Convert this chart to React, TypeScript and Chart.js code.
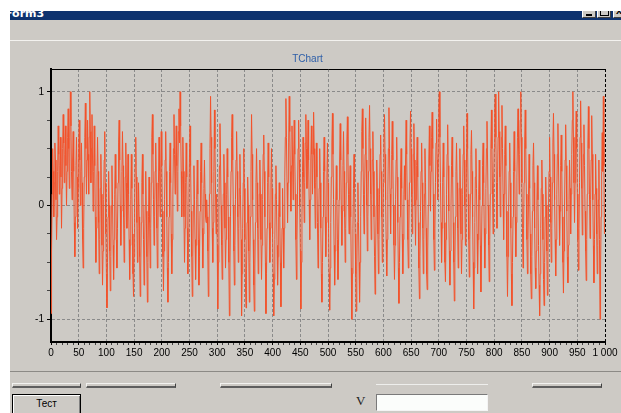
import React, { useEffect, useRef } from "react";
import { Chart, registerables } from "chart.js";

Chart.register(...registerables);

const TITLE = "TChart";
const X_MIN = 0;
const X_MAX = 1000;
const Y_MIN = -1.2;
const Y_MAX = 1.2;
const X_MAJOR = 50;
const X_STEP = 10;
const Y_STEP = 0.25;

const SIGNAL: number[] = [
  -0.95, -0.4, 0.1, 0.5, 0.3, -0.1, 0.2, 0.55, 0.4, 0.05, -0.3, -0.1, 0.3, 0.7, 0.45, 0.1, 0.35, 0.6, 0.25, -0.2,
  0.15, 0.5, 0.8, 0.55, 0.2, 0.45, 0.7, 0.35, 0.0, 0.3, 0.6, 0.85, 0.5, 0.15, 0.6, 1.0, 0.7, 0.3, 0.05, 0.4,
  0.65, 0.3, -0.15, -0.45, -0.1, 0.35, 0.6, 0.25, -0.2, 0.15, 0.5, 0.75, 0.4, 0.0, 0.3, 0.55, 0.2, -0.3, -0.55, -0.2,
  0.25, 0.6, 0.9, 0.5, 0.1, 0.4, 0.75, 0.45, 0.1, 0.6, 1.0, 0.65, 0.2, 0.5, 0.8, 0.4, -0.05, 0.3, 0.7, 0.35,
  -0.1, -0.5, -0.2, 0.25, 0.6, 0.3, -0.15, -0.6, -0.3, 0.15, 0.45, 0.1, -0.35, -0.7, -0.4, 0.05, 0.4, 0.65, 0.2, -0.25,
  -0.6, -0.9, -0.5, -0.1, 0.3, 0.0, -0.4, -0.75, -0.45, 0.0, 0.35, 0.05, -0.35, -0.65, -0.3, 0.1, 0.45, 0.15, -0.3, -0.55,
  -0.2, 0.2, 0.55, 0.75, 0.4, 0.0, -0.35, -0.05, 0.3, 0.65, 0.35, -0.1, -0.5, -0.2, 0.25, 0.55, 0.2, -0.2, 0.15, 0.45,
  0.1, -0.3, -0.65, -0.35, 0.05, 0.45, 0.15, -0.25, -0.6, -0.8, -0.45, 0.0, 0.35, 0.6, 0.25, -0.15, -0.5, -0.2, 0.2, -0.1,
  -0.45, -0.8, -0.55, -0.15, 0.2, 0.45, 0.1, -0.3, -0.7, -0.4, 0.0, 0.3, -0.05, -0.45, -0.85, -0.5, -0.1, 0.25, -0.15, -0.55,
  -0.2, 0.2, 0.6, 0.8, 0.45, 0.05, -0.35, -0.1, 0.3, 0.55, 0.2, -0.2, -0.55, -0.25, 0.2, 0.6, 0.3, -0.1, 0.25, 0.65,
  0.35, -0.05, -0.45, -0.75, -0.4, 0.05, 0.4, 0.65, 0.3, -0.1, -0.55, -0.85, -0.5, -0.1, 0.3, 0.55, 0.2, -0.25, -0.6, -0.3,
  0.1, 0.5, 0.8, 0.45, 0.1, 0.4, 0.7, 0.35, -0.05, 0.3, 0.65, 0.85, 0.55, 1.0, 0.7, 0.3, -0.1, 0.25, 0.6, 0.3,
  -0.1, -0.5, -0.2, 0.2, 0.55, 0.25, -0.2, -0.6, -0.3, 0.1, 0.45, 0.7, 0.35, -0.05, -0.45, -0.8, -0.45, 0.0, 0.35, 0.05,
  -0.3, -0.65, -0.35, 0.05, 0.4, 0.1, -0.3, -0.7, -0.45, -0.05, 0.3, 0.55, 0.2, -0.2, -0.55, -0.25, 0.15, 0.4, 0.1, -0.1,
  -0.15, 0.05, -0.1, -0.4, -0.8, -0.4, 0.1, 0.5, 0.96, 0.6, 0.2, -0.2, -0.5, -0.15, 0.3, 0.84, 0.5, 0.1, -0.25, 0.1,
  -0.35, -0.91, -0.5, -0.05, 0.35, 0.72, 0.4, 0.0, -0.35, -0.65, -0.3, 0.1, 0.45, 0.2, -0.2, -0.55, -0.3, 0.1, 0.5, 0.25,
  -0.1, -0.5, -0.97, -0.55, -0.1, 0.3, 0.6, 0.8, 0.4, 0.0, -0.4, -0.7, -0.35, 0.05, 0.4, 0.65, 0.3, -0.1, -0.5, -0.2,
  0.15, 0.45, 0.1, -0.3, -0.97, -0.6, -0.2, 0.2, 0.5, 0.15, -0.3, -0.7, -0.9, -0.55, -0.15, 0.25, 0.0, -0.4, -0.85, -0.5,
  -0.1, 0.3, 0.8, 0.45, 0.05, -0.3, -0.7, -0.93, -0.55, -0.15, 0.2, 0.5, 0.2, -0.2, -0.6, -0.3, 0.1, 0.4, 0.1, -0.3,
  -0.65, -0.35, 0.05, 0.45, 0.62, 0.3, -0.1, -0.5, -0.95, -0.6, -0.2, 0.2, 0.55, 0.25, -0.15, -0.5, -0.2, 0.2, 0.5, 0.15,
  -0.25, -0.6, -0.97, -0.65, -0.3, 0.1, 0.35, 0.05, -0.35, -0.7, -0.45, -0.1, 0.2, -0.1, -0.5, -0.89, -0.55, -0.2, 0.15, -0.2,
  -0.55, -0.2, 0.25, 0.6, 0.94, 0.6, 0.2, -0.15, 0.2, 0.55, 0.96, 0.65, 0.3, -0.05, 0.35, 0.7, 0.4, 0.05, 0.4, 0.75,
  0.45, 0.1, -0.3, -0.65, -0.3, 0.1, 0.5, 0.75, 0.4, 0.0, -0.4, -0.91, -0.5, -0.1, 0.3, 0.6, 0.25, -0.15, 0.2, 0.55,
  0.8, 0.5, 0.15, 0.45, 0.75, 0.4, 0.05, -0.3, 0.05, 0.4, 0.7, 0.45, 0.1, 0.45, 0.82, 0.5, 0.15, -0.2, 0.2, 0.55,
  0.25, -0.15, -0.55, -0.25, 0.15, 0.5, 0.2, -0.2, -0.6, -0.85, -0.5, -0.1, 0.3, 0.6, 0.3, -0.1, -0.45, -0.15, 0.25, 0.55,
  0.2, -0.2, -0.6, -0.92, -0.55, -0.15, 0.25, 0.55, 0.81, 0.45, 0.05, -0.35, -0.7, -0.4, 0.0, 0.35, 0.05, -0.3, -0.65, -0.35,
  0.05, 0.4, 0.72, 0.4, 0.0, -0.35, -0.05, 0.35, 0.65, 0.3, -0.1, -0.5, -0.2, 0.2, 0.55, 0.78, 0.45, 0.1, -0.25, 0.1,
  0.35, -0.1, -0.55, -1.0, -0.6, -0.2, 0.15, 0.45, 0.15, -0.25, -0.6, -0.93, -0.55, -0.15, 0.2, -0.15, -0.5, -0.85, -0.5, -0.1,
  0.3, 0.65, 0.85, 0.5, 0.1, -0.25, 0.1, 0.45, 0.77, 0.4, 0.0, -0.4, -0.1, 0.3, 0.6, 0.88, 0.5, 0.1, -0.3, 0.05,
  0.4, 0.65, 0.3, -0.1, -0.45, -0.78, -0.4, 0.0, 0.4, 0.15, -0.25, -0.6, -0.3, 0.1, 0.45, 0.62, 0.3, -0.1, -0.5, -0.2,
  0.2, 0.55, 0.8, 0.45, 0.05, -0.3, -0.62, -0.3, 0.1, 0.5, 0.86, 0.5, 0.1, -0.25, 0.15, 0.45, 0.74, 0.4, 0.0, -0.35,
  -0.65, -0.35, 0.05, 0.4, 0.6, 0.25, -0.15, -0.55, -0.86, -0.5, -0.1, 0.25, 0.5, 0.15, -0.25, -0.6, -0.3, 0.1, 0.35, 0.05,
  0.4, 0.75, 0.45, 0.05, -0.3, -0.55, -0.2, 0.2, 0.55, 0.83, 0.5, 0.1, -0.25, 0.1, 0.45, 0.72, 0.4, 0.0, -0.35, 0.05,
  0.35, 0.6, 0.25, -0.15, -0.55, -0.82, -0.45, -0.05, 0.3, 0.55, 0.2, -0.2, -0.6, -0.3, 0.1, 0.5, 0.2, -0.2, -0.6, -0.74,
  -0.4, 0.0, 0.4, 0.7, 0.35, -0.05, 0.3, 0.6, 0.82, 0.5, 0.1, -0.3, -0.57, -0.2, 0.2, 0.55, 0.76, 0.4, 0.05, 0.45,
  0.87, 1.0, 0.6, 0.2, -0.15, -0.5, -0.2, 0.2, 0.55, 0.25, -0.15, -0.5, -0.67, -0.3, 0.1, 0.45, 0.71, 0.35, -0.05, -0.4,
  -0.7, -0.4, 0.0, 0.35, 0.6, 0.25, -0.15, -0.5, -0.84, -0.5, -0.1, 0.3, 0.55, 0.2, -0.2, -0.55, -0.25, 0.15, 0.5, 0.15,
  -0.25, -0.6, -0.3, 0.1, 0.45, 0.7, 0.4, 0.0, -0.35, -0.05, 0.4, 0.81, 0.5, 0.1, -0.3, -0.63, -0.3, 0.1, 0.45, 0.66,
  0.3, -0.1, -0.5, -0.91, -0.55, -0.15, 0.25, 0.5, 0.15, -0.25, -0.6, -0.3, 0.1, 0.4, 0.05, -0.35, -0.76, -0.4, 0.0, 0.35,
  0.55, 0.2, -0.2, -0.55, -0.25, 0.15, 0.5, 0.74, 0.4, 0.0, -0.35, -0.67, -0.3, 0.1, 0.5, 0.84, 0.5, 0.1, -0.25, 0.15,
  0.5, 0.85, 0.98, 0.6, 0.2, -0.2, 0.2, 0.6, 1.0, 0.65, 0.25, -0.1, 0.25, 0.6, 0.88, 0.5, 0.1, -0.3, 0.1, 0.45,
  0.7, 0.35, -0.05, -0.45, -0.8, -0.45, -0.05, 0.3, 0.55, 0.2, -0.2, -0.6, -0.88, -0.5, -0.1, 0.3, 0.65, 0.3, -0.1, -0.45,
  -0.15, 0.25, 0.6, 0.85, 0.5, 0.1, 0.45, 0.75, 1.0, 0.6, 0.2, -0.2, -0.55, -0.2, 0.2, 0.55, 0.84, 0.5, 0.1, -0.3,
  -0.6, -0.3, 0.1, 0.45, 0.15, -0.25, -0.6, -0.82, -0.45, -0.05, 0.35, 0.55, 0.2, -0.2, -0.55, -0.73, -0.4, 0.0, 0.35, 0.05,
  -0.35, -0.7, -0.97, -0.6, -0.2, 0.15, 0.4, 0.1, -0.3, -0.65, -0.88, -0.5, -0.1, 0.25, 0.0, -0.4, -0.79, -0.45, -0.05, 0.3,
  0.6, 0.25, -0.15, -0.5, -0.2, 0.2, 0.55, 0.81, 0.45, 0.05, -0.3, -0.62, -0.3, 0.1, 0.45, 0.72, 0.4, 0.0, -0.35, -0.05,
  0.35, 0.62, 0.3, -0.1, -0.5, -0.77, -0.4, 0.0, 0.4, 0.71, 0.35, -0.05, -0.45, -0.68, -0.35, 0.05, 0.4, 0.15, -0.25, 0.1,
  0.45, 0.75, 1.0, 0.6, 0.2, -0.15, 0.2, 0.55, 0.83, 0.5, 0.1, -0.3, -0.57, -0.2, 0.2, 0.6, 0.92, 0.55, 0.15, -0.26,
  0.1, 0.45, 0.71, 0.35, -0.05, -0.4, -0.66, -0.3, 0.1, 0.5, 0.87, 0.5, 0.1, -0.29, 0.05, 0.4, 0.79, 0.45, 0.05, -0.35,
  -0.68, -0.3, 0.1, 0.45, 0.15, -0.25, -0.6, -0.35, 0.05, 0.4, -0.3, -1.0, -0.55, -0.1, 0.3, 0.64, 0.3, 0.96, 0.35, -0.25,
];

const FACE = "#cdcac5";
const LINE_COLOR = "#f2522b";
const GRID_COLOR = "#8a8a8a";
const TITLE_COLOR = "#2d5ea8";
const FONT = "'Liberation Sans', Arial, sans-serif";

const isInt = (v: number) => Math.abs(v - Math.round(v)) < 1e-6;
const fmtX = (v: number) => (v >= 1000 ? String(v).replace(/\B(?=(\d{3})+(?!\d))/g, " ") : String(v));

const framePlugin = {
  id: "frame",
  afterDatasetsDraw(chart: any) {
    const { ctx, chartArea: a } = chart;
    ctx.save();
    ctx.strokeStyle = "#000";
    ctx.lineWidth = 1;
    ctx.beginPath();
    ctx.moveTo(a.left, a.top + 0.5);
    ctx.lineTo(a.right + 1, a.top + 0.5);
    ctx.stroke();
    ctx.setLineDash([3, 2]);
    ctx.beginPath();
    ctx.moveTo(a.right + 0.5, a.top);
    ctx.lineTo(a.right + 0.5, a.bottom);
    ctx.stroke();
    ctx.restore();
  },
};

function TChart() {
  const ref = useRef<HTMLCanvasElement | null>(null);
  useEffect(() => {
    if (!ref.current) return;
    const chart = new Chart(ref.current, {
      type: "line",
      data: {
        datasets: [
          {
            data: SIGNAL.map((v, i) => ({ x: i, y: v })),
            borderColor: LINE_COLOR,
            borderWidth: 1,
            pointRadius: 0,
            tension: 0,
            fill: false,
          },
        ],
      },
      options: {
        animation: false,
        responsive: false,
        events: [],
        layout: { padding: { left: 0, right: 16, top: 0, bottom: 0 } },
        plugins: {
          legend: { display: false },
          tooltip: { enabled: false },
          title: {
            display: true,
            text: TITLE,
            color: TITLE_COLOR,
            font: { family: FONT, size: 10, weight: "normal" },
            padding: { top: 12, bottom: 4 },
          },
        },
        scales: {
          x: {
            type: "linear",
            min: X_MIN,
            max: X_MAX,
            afterFit: (s: any) => {
              s.height = 29;
            },
            ticks: {
              stepSize: X_STEP,
              autoSkip: false,
              maxRotation: 0,
              minRotation: 0,
              includeBounds: false,
              padding: 2,
              color: "#000",
              font: { family: FONT, size: 10 },
              callback: (v: any) => (Number(v) % X_MAJOR === 0 ? fmtX(Number(v)) : ""),
            },
            grid: {
              color: (c: any) =>
                c.tick && c.tick.value % X_MAJOR === 0 ? GRID_COLOR : "rgba(0,0,0,0)",
              tickColor: (c: any) => (c.tick && c.tick.value % X_MAJOR === 0 ? "#000" : "#444"),
              tickLength: 3,
              lineWidth: 1,
            },
            border: { display: true, color: "#000", width: 2, dash: [3, 2] },
          },
          y: {
            type: "linear",
            min: Y_MIN,
            max: Y_MAX,
            afterFit: (s: any) => {
              s.width = 41;
            },
            ticks: {
              stepSize: Y_STEP,
              autoSkip: false,
              includeBounds: false,
              padding: 3,
              color: "#000",
              font: { family: FONT, size: 10 },
              callback: (v: any) => (isInt(Number(v)) ? String(Math.round(Number(v))) : ""),
            },
            grid: {
              color: (c: any) => (c.tick && isInt(c.tick.value) ? GRID_COLOR : "rgba(0,0,0,0)"),
              tickColor: (c: any) => (c.tick && isInt(c.tick.value) ? "#000" : "#444"),
              tickLength: 4,
              lineWidth: 1,
            },
            border: { display: true, color: "#000", width: 2, dash: [3, 2] },
          },
        },
      },
      plugins: [framePlugin],
    } as any);
    return () => chart.destroy();
  }, []);
  return <canvas ref={ref} width={611} height={330} style={{ display: "block" }} />;
}

const abs = (l: number, t: number, w: number, h: number, extra: React.CSSProperties = {}): React.CSSProperties => ({
  position: "absolute",
  left: l,
  top: t,
  width: w,
  height: h,
  boxSizing: "border-box",
  ...extra,
});

function Segment({ l, w }: { l: number; w: number }) {
  return (
    <div
      style={abs(l, 383, w, 5, {
        borderTop: "1px solid #f2f2f0",
        borderLeft: "1px solid #f2f2f0",
        borderRight: "1px solid #404040",
        borderBottom: "2px solid #5e5e5e",
      })}
    />
  );
}

export default function App() {
  return (
    <div style={abs(0, 0, 621, 413, { background: "#fff", overflow: "hidden", fontFamily: FONT })}>
      {/* window body */}
      <div style={abs(10, 20, 611, 393, { background: FACE })} />
      {/* title bar */}
      <div style={abs(10, 11, 611, 9, { background: "#0e326e", overflow: "hidden" })}>
        <span
          style={{
            position: "absolute",
            left: -5,
            top: -4,
            color: "#fff",
            fontWeight: "bold",
            fontSize: 11,
            lineHeight: "13px",
            fontFamily: "'DejaVu Sans', sans-serif",
            whiteSpace: "nowrap",
          }}
        >
          Form3
        </span>
        {[572, 587, 603].map((bx, i) => (
          <div
            key={i}
            style={abs(bx, -5, 14, 12, {
              background: FACE,
              borderTop: "1px solid #fff",
              borderLeft: "1px solid #fff",
              borderRight: "1px solid #404040",
              borderBottom: "1px solid #404040",
            })}
          >
            {i === 0 && <div style={abs(3, 7, 6, 2, { background: "#000" })} />}
            {i === 1 && (
              <div style={abs(2, 0, 9, 9, { borderTop: "2px solid #000", borderLeft: "1px solid #000", borderRight: "1px solid #000", borderBottom: "1px solid #000" })} />
            )}
            {i === 2 && (
              <span style={{ position: "absolute", left: 2, top: -3, fontSize: 11, fontWeight: "bold", color: "#000", lineHeight: "12px" }}>x</span>
            )}
          </div>
        ))}
      </div>
      {/* separator under toolbar */}
      <div style={abs(10, 40, 611, 1, { background: "#f3f2ef" })} />
      {/* chart */}
      <div style={abs(10, 41, 611, 330)}>
        <TChart />
      </div>
      {/* separator under chart */}
      <div style={abs(10, 371, 611, 1, { background: "#8c8a86" })} />
      {/* panel edges */}
      <Segment l={12} w={69} />
      <Segment l={86} w={90} />
      <Segment l={220} w={112} />
      <div style={abs(376, 384, 112, 1, { background: "#eeeeec" })} />
      <Segment l={532} w={70} />
      {/* button */}
      <div
        style={abs(12, 394, 69, 21, {
          border: "1px solid #000",
          boxShadow: "inset 1px 1px #fff, inset -1px -1px #808080",
          background: FACE,
          textAlign: "center",
          fontSize: 10,
          lineHeight: "18px",
          color: "#000",
        })}
      >
        Тест
      </div>
      {/* V label */}
      <div
        style={{
          position: "absolute",
          left: 356,
          top: 394,
          fontFamily: "'Liberation Serif', 'Times New Roman', serif",
          fontSize: 13,
          lineHeight: "13px",
          color: "#222",
        }}
      >
        V
      </div>
      {/* edit box */}
      <div
        style={abs(376, 394, 112, 17, {
          background: "#fbfdfb",
          borderTop: "1px solid #7a7a7a",
          borderLeft: "1px solid #7a7a7a",
          borderRight: "1px solid #f4f4f4",
          borderBottom: "1px solid #f4f4f4",
        })}
      />
    </div>
  );
}
